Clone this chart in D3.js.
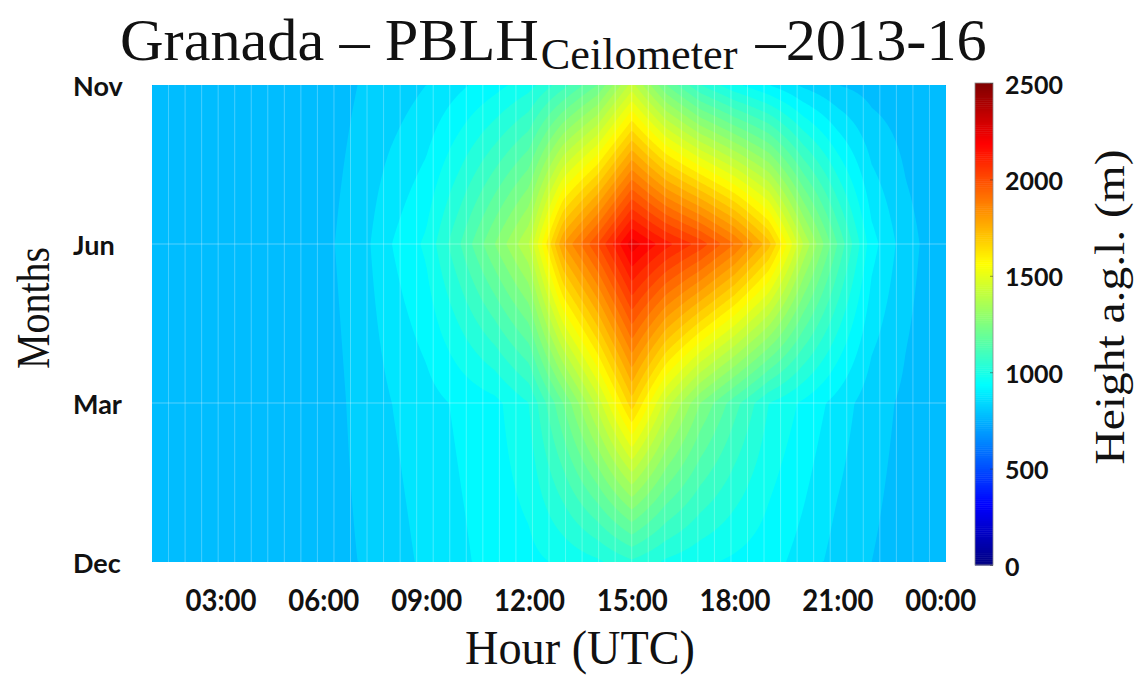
<!DOCTYPE html>
<html>
<head>
<meta charset="utf-8">
<script src="https://cdn.jsdelivr.net/npm/d3@7"></script>
<style>
  body { margin: 0; background: #ffffff; }
  svg { display: block; }
</style>
</head>
<body>
<svg id="chart" width="1138" height="677"></svg>
<script>
// Seasonal rows (bottom to top) and the hourly PBLH climatology (m a.g.l.)
const seasons = ["Dec", "Mar", "Jun", "Nov"];
const hours = d3.range(1, 25); // 01:00 ... 24:00 (= 00:00)
const pblhDec = [765, 765, 765, 765, 770, 780, 800, 830, 860, 890, 920, 935, 960, 990, 1040, 990, 960, 940, 920, 880, 830, 800, 780, 770];
const pblhMar = [765, 765, 765, 765, 770, 780, 810, 850, 880, 910, 935, 1000, 1200, 1420, 1680, 1430, 1250, 1120, 1000, 940, 880, 820, 790, 770];
const pblhJun = [765, 765, 765, 765, 775, 790, 820, 900, 960, 1100, 1250, 1400, 1800, 2000, 2230, 2120, 2030, 1900, 1720, 1400, 1150, 920, 820, 770];
const pblhNov = [765, 765, 765, 765, 770, 780, 800, 820, 850, 890, 930, 980, 1080, 1200, 1420, 1200, 1050, 960, 900, 840, 800, 780, 770, 765];
const hourTicks = [3, 6, 9, 12, 15, 18, 21, 24];
const hourTickLabels = ["03:00", "06:00", "09:00", "12:00", "15:00", "18:00", "21:00", "00:00"];
const colorTicks = [0, 500, 1000, 1500, 2000, 2500];

const rows = [pblhDec, pblhMar, pblhJun, pblhNov];

const svg = d3.select("#chart");
const plot = { x0: 152, x1: 946, y0: 85, y1: 562 };
const W = plot.x1 - plot.x0, H = plot.y1 - plot.y0;

const x = d3.scaleLinear().domain([1, 24.17]).range([plot.x0, plot.x1]);
const y = d3.scaleLinear().domain([0, seasons.length - 1]).range([plot.y1, plot.y0]);

// MATLAB-style "jet" colour map
const jet = d3.scaleLinear()
  .domain([0, 312.5, 937.5, 1562.5, 2187.5, 2500])
  .range(["#000080", "#0000ff", "#00ffff", "#ffff00", "#ff0000", "#800000"])
  .clamp(true);

// Bilinear interpolation of the hour x season grid
function valueAt(h, s) {
  const hc = Math.max(hours[0], Math.min(hours[hours.length - 1], h)) - hours[0];
  const i0 = Math.min(Math.floor(hc), hours.length - 2), fx = hc - i0;
  const sc = Math.max(0, Math.min(rows.length - 1, s));
  const j0 = Math.min(Math.floor(sc), rows.length - 2), fy = sc - j0;
  const a = rows[j0][i0] * (1 - fx) + rows[j0][i0 + 1] * fx;
  const b = rows[j0 + 1][i0] * (1 - fx) + rows[j0 + 1][i0 + 1] * fx;
  return a * (1 - fy) + b * fy;
}

const nx = 400, ny = 240;
const grid = new Float64Array(nx * ny);
for (let j = 0; j < ny; j++) {
  const s = y.invert(plot.y0 + (j + 0.5) / ny * H);
  for (let i = 0; i < nx; i++) {
    const h = x.invert(plot.x0 + (i + 0.5) / nx * W);
    grid[j * nx + i] = valueAt(h, s);
  }
}

const levels = d3.range(0, 2500, 50);
const bands = d3.contours().size([nx, ny]).thresholds(levels)(grid);
const toPlot = d3.geoTransform({
  point(px, py) { this.stream.point(plot.x0 + px / nx * W, plot.y0 + py / ny * H); }
});
const path = d3.geoPath(toPlot);

svg.append("clipPath").attr("id", "plotClip")
  .append("rect").attr("x", plot.x0).attr("y", plot.y0).attr("width", W).attr("height", H);

const field = svg.append("g").attr("clip-path", "url(#plotClip)");
field.selectAll("path.band")
  .data(bands)
  .join("path")
  .attr("class", "band")
  .attr("d", path)
  .attr("fill", d => jet(d.value + 25));

// Faint strip boundaries across the hour axis
const strips = d3.range(1, 48).map(k => x.domain()[0] + k * (x.domain()[1] - x.domain()[0]) / 48);
field.selectAll("line.strip")
  .data(strips)
  .join("line")
  .attr("class", "strip")
  .attr("x1", d => x(d)).attr("x2", d => x(d))
  .attr("y1", plot.y0).attr("y2", plot.y1)
  .attr("stroke", "#ffffff").attr("stroke-opacity", 0.28).attr("stroke-width", 1);

// Faint season boundaries
field.selectAll("line.row")
  .data([1, 2])
  .join("line")
  .attr("class", "row")
  .attr("x1", plot.x0).attr("x2", plot.x1)
  .attr("y1", d => y(d)).attr("y2", d => y(d))
  .attr("stroke", "#ffffff").attr("stroke-opacity", 0.22).attr("stroke-width", 1.5);

// X axis
const xAxis = svg.append("g")
  .attr("transform", `translate(0,${plot.y1})`)
  .call(d3.axisBottom(x).tickValues(hourTicks).tickFormat((d, i) => hourTickLabels[i]).tickSize(0));
xAxis.select(".domain").remove();
xAxis.selectAll("text")
  .attr("y", 37).attr("dy", null)
  .attr("dominant-baseline", "central")
  .attr("font-family", "Lato, 'Open Sans', sans-serif")
  .attr("font-weight", 700)
  .attr("font-size", 30)
  .attr("textLength", 71)
  .attr("lengthAdjust", "spacingAndGlyphs")
  .attr("fill", "#111");

// Y axis
const yAxis = svg.append("g")
  .attr("transform", `translate(${plot.x0},0)`)
  .call(d3.axisLeft(y).tickValues(d3.range(seasons.length)).tickFormat(i => seasons[i]).tickSize(0));
yAxis.select(".domain").remove();
yAxis.selectAll("text")
  .attr("x", 73 - plot.x0).attr("dy", null)
  .attr("text-anchor", "start")
  .attr("dominant-baseline", "central")
  .attr("font-family", "Lato, 'Open Sans', sans-serif")
  .attr("font-weight", 700)
  .attr("font-size", 27)
  .attr("fill", "#111");

// Colour bar
const cb = { x: 975, w: 18, top: 83, bottom: 565 };
const c = d3.scaleLinear().domain([0, 2500]).range([cb.bottom, cb.top]);
const cbSteps = d3.range(0, 2500, 10);
svg.append("g").selectAll("rect")
  .data(cbSteps)
  .join("rect")
  .attr("x", cb.x).attr("width", cb.w)
  .attr("y", d => c(d + 10)).attr("height", d => c(d) - c(d + 10) + 0.5)
  .attr("fill", d => jet(d + 5));
svg.append("rect")
  .attr("x", cb.x).attr("y", cb.top).attr("width", cb.w).attr("height", cb.bottom - cb.top)
  .attr("fill", "none").attr("stroke", "#8a8a8a").attr("stroke-width", 0.8);
const cAxis = svg.append("g")
  .attr("transform", `translate(${cb.x + cb.w},0)`)
  .call(d3.axisLeft(c).tickValues(colorTicks).tickFormat(d3.format("d")).tickSize(3));
cAxis.select(".domain").remove();
cAxis.selectAll("line").attr("stroke", "#333").attr("stroke-opacity", 0.5);
cAxis.selectAll("text")
  .attr("x", 1005 - (cb.x + cb.w)).attr("dy", null)
  .attr("text-anchor", "start")
  .attr("dominant-baseline", "central")
  .attr("font-family", "Lato, 'Open Sans', sans-serif")
  .attr("font-weight", 700)
  .attr("font-size", 25)
  .attr("fill", "#111");

// Title with subscript, fitted horizontally to its span
const serif = "'Liberation Serif', 'DejaVu Serif', serif";
const titleG = svg.append("g");
const titleText = titleG.append("text")
  .attr("x", 0).attr("y", 60)
  .attr("font-family", serif).attr("font-size", 60).attr("fill", "#111");
titleText.append("tspan").text("Granada \u2013 PBLH");
titleText.append("tspan").attr("font-size", 44).attr("dy", 9).attr("dx", 2).text("Ceilometer");
titleText.append("tspan").attr("dy", -9).attr("dx", 18).text("\u20132013-16");
const tb = titleText.node().getBBox();
const titleLeft = 120, titleRight = 987;
const sx = (titleRight - titleLeft) / tb.width;
titleG.attr("transform", `translate(${titleLeft - tb.x * sx},0) scale(${sx},1)`);

svg.append("text")
  .attr("x", 580).attr("y", 664)
  .attr("text-anchor", "middle")
  .attr("font-family", serif).attr("font-size", 48).attr("fill", "#111")
  .attr("textLength", 230).attr("lengthAdjust", "spacingAndGlyphs")
  .text("Hour (UTC)");

svg.append("text")
  .attr("transform", "translate(49,308) rotate(-90)")
  .attr("text-anchor", "middle")
  .attr("font-family", serif).attr("font-size", 46).attr("fill", "#111")
  .attr("textLength", 122).attr("lengthAdjust", "spacingAndGlyphs")
  .text("Months");

svg.append("text")
  .attr("transform", "translate(1124,307) rotate(-90)")
  .attr("text-anchor", "middle")
  .attr("font-family", serif).attr("font-size", 42).attr("fill", "#111")
  .attr("textLength", 315).attr("lengthAdjust", "spacingAndGlyphs")
  .text("Height  a.g.l. (m)");
</script>
</body>
</html>
